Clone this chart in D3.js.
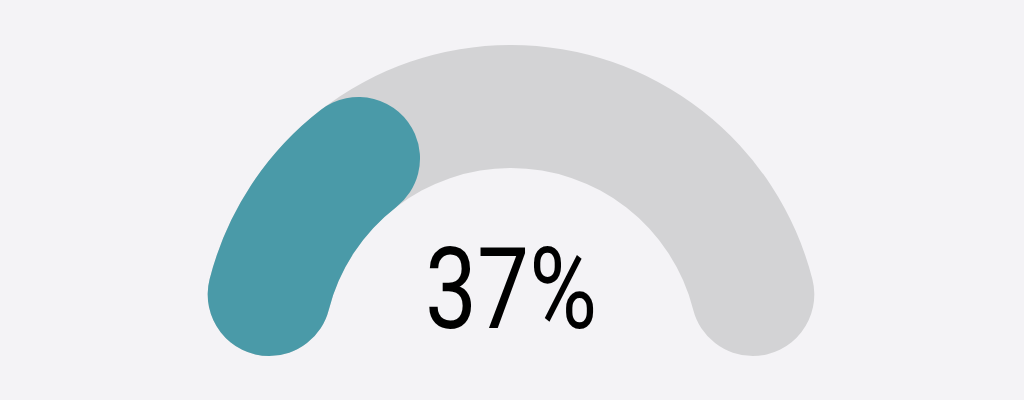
<!DOCTYPE html>
<html>
<head>
<meta charset="utf-8">
<script src="https://cdn.jsdelivr.net/npm/d3@7"></script>
<style>
html,body{margin:0;padding:0;background:#f4f3f6;}
svg{display:block;}
</style>
</head>
<body>
<svg id="chart" width="1024" height="400"></svg>
<script>
const value = [37];
const domain = [0, 100];
const labels = ["37%"];

const W = 1024, H = 400;
const cx = 511, cy = 356;
const outerR = 311, innerR = 188;

const svg = d3.select("#chart");
svg.append("rect").attr("width", W).attr("height", H).attr("fill", "#f4f3f6");

const angle = d3.scaleLinear().domain(domain).range([-Math.PI / 2, Math.PI / 2]);

const arc = d3.arc()
  .innerRadius(innerR)
  .outerRadius(outerR)
  .cornerRadius((outerR - innerR) / 2);

const g = svg.append("g").attr("transform", `translate(${cx},${cy})`);

g.append("path")
  .attr("d", arc({startAngle: angle(domain[0]), endAngle: angle(domain[1])}))
  .attr("fill", "#d3d3d5");

g.selectAll("path.val").data(value).enter().append("path")
  .attr("class", "val")
  .attr("d", d => arc({startAngle: angle(domain[0]), endAngle: angle(d)}))
  .attr("fill", "#4a9aa8");

g.selectAll("text.lbl").data(labels).enter().append("text")
  .attr("class", "lbl")
  .attr("x", 0)
  .attr("y", -28)
  .attr("text-anchor", "middle")
  .attr("font-family", "Roboto, sans-serif")
  .attr("font-size", 114)
  .attr("textLength", 172)
  .attr("lengthAdjust", "spacingAndGlyphs")
  .attr("fill", "#000")
  .text(d => d);
</script>
</body>
</html>
